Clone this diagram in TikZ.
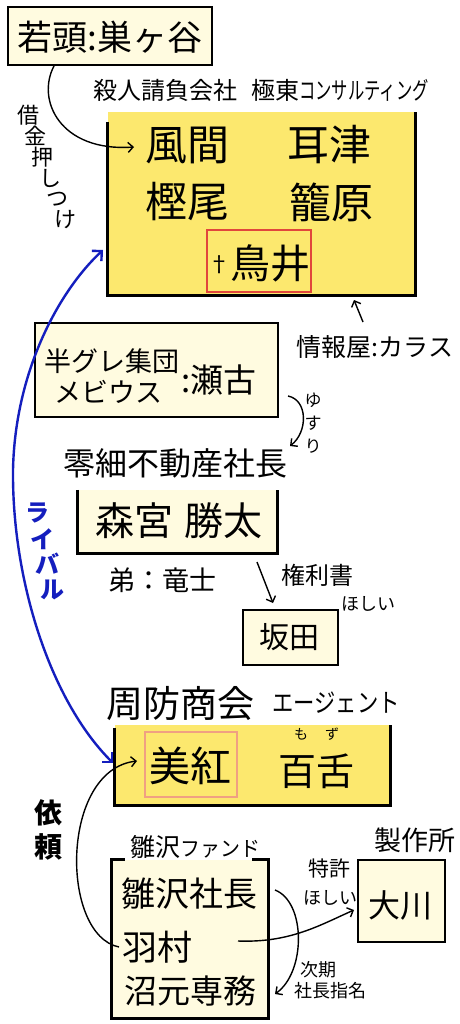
\documentclass[tikz,border=0pt]{standalone}
\usepackage{fontspec}
\setmainfont{Noto Sans CJK JP}
\usetikzlibrary{arrows.meta}
\definecolor{cream}{RGB}{255,251,224}
\definecolor{yel}{RGB}{252,232,110}
\definecolor{rivalblue}{RGB}{20,30,190}
\definecolor{redbox}{RGB}{225,70,60}
\definecolor{pinkbox}{RGB}{240,160,130}
\newcommand{\fsz}[1]{\fontsize{#1}{#1}\selectfont}
\newcommand{\fszl}[2]{\fontsize{#1}{#2}\selectfont}
\begin{document}
\begin{tikzpicture}[x=1pt,y=-1pt,
  t/.style={inner sep=0pt},
  creambox/.style={draw=black, line width=2.8pt, fill=cream, inner sep=0pt},
  fillonly/.style={fill=#1, inner sep=0pt},
  edge/.style={line width=2.8pt, line join=miter},
  conn/.style={line width=1.4pt, -{Straight Barb[length=5pt,width=10pt]}},
  rival/.style={line width=2.4pt, draw=rivalblue,
    {Straight Barb[length=7pt,width=14pt]}-{Straight Barb[length=7pt,width=14pt]}},
  vert/.style={t, align=center}]
\useasboundingbox[fill=white] (0,0) rectangle (459,1024);

% ---- top box
\node[creambox, minimum width=204pt, minimum height=58pt] (waka) at (110,36) {};
\node[t, font=\fsz{35}] (wakat) at (110,37) {若頭:巣ヶ谷};

% ---- company header
\node[t, anchor=west, font=\fsz{24}] (kyokuh) at (93,90)
  {殺人請負会社\hspace{14pt}極東\scalebox{0.68}[1]{コンサルティング}};

% ---- big yellow box
\node[fillonly=yel, minimum width=307pt, minimum height=183pt] (kyoku) at (261.5,203.5) {};
\draw[edge] ([yshift=-10pt]kyoku.north west) -- (kyoku.south west) -- (kyoku.south east) -- (kyoku.north east);
\node[t, font=\fsz{42}] (kazama) at (187,145) {風間};
\node[t, font=\fsz{42}] (mimizu) at (329,145) {耳津};
\node[t, font=\fsz{42}] (kashio) at (187,202) {樫尾};
\node[t, font=\fsz{42}] (kagohara) at (331,202) {籠原};
\node[draw=redbox, line width=1.6pt, minimum width=104pt, minimum height=62pt, inner sep=0pt] (toriibox) at (259,261) {};
\node[t, font=\fsz{40}] (torii) at (259,263) {\raisebox{6pt}{\fsz{22}†}鳥井};

% ---- 借金押しつけ
\coordinate (kstart) at (54,66);
\coordinate (kend) at (134,147);
\draw[conn] (kstart) .. controls (36,100) and (60,152) .. (kend);
\foreach \c [count=\i from 0] in {借,金,押,し,つ,け}
  \node[t, font=\fsz{22}] (shakkin\i) at ({28+7.4*\i},{115+21*\i}) {\c};

% ---- 情報屋
\node[t, font=\fsz{25}] (karasu) at (375,347) {情報屋:カラス};
\coordinate (kara1) at (363,322);
\coordinate (kara2) at (354,300);
\draw[conn] (kara1) -- (kara2);

% ---- 半グレ box
\node[creambox, minimum width=243pt, minimum height=94pt] (hangure) at (156.5,370) {};
\node[t, font=\fsz{27}] (hg1) at (112,361) {半グレ集団};
\node[t, font=\fsz{27}] (hg2) at (108,392) {メビウス};
\node[t, anchor=west, font=\fsz{33}] (seko) at (181,380) {:瀬古};

% ---- ゆすり
\coordinate (y1) at (288,396);
\coordinate (y2) at (290,446);
\draw[conn] (y1) .. controls (308,400) and (308,432) .. (y2);
\node[vert, font=\fszl{17}{23}] (yusuri) at (313,423) {ゆ\\す\\り};

% ---- 森宮
\node[t, font=\fsz{32}] (reisai) at (175,463) {零細不動産社長};
\node[fillonly=cream, minimum width=199pt, minimum height=63pt] (morimiya) at (177.5,521.5) {};
\draw[edge] (morimiya.north west) -- (morimiya.south west) -- (morimiya.south east) -- (morimiya.north east);
\node[t, font=\fsz{39}] (morimiyat) at (179,521) {森宮\hspace{12pt}勝太};
\node[t, font=\fsz{27}] (otouto) at (162,580) {弟：竜士};

% ---- 坂田
\coordinate (ken1) at (257,562);
\coordinate (ken2) at (273,603);
\draw[conn] (ken1) -- (ken2);
\node[t, font=\fsz{24}] (kenri) at (317,575) {権利書};
\node[t, font=\fsz{18}] (hoshii1) at (368,604) {ほしい};
\node[creambox, minimum width=95pt, minimum height=55pt] (sakata) at (290.5,637.5) {};
\node[t, font=\fsz{30}] (sakatat) at (289,637) {坂田};

% ---- 周防商会
\node[t, anchor=west, font=\fsz{37}] (suou) at (106,704) {周防商会};
\node[t, anchor=west, font=\fsz{26}] (agent) at (272,703) {\scalebox{0.82}[1]{エージェント}};
\node[fillonly=yel, minimum width=275pt, minimum height=80pt] (suoubox) at (252.5,765) {};
\draw[edge] ([yshift=-3pt]suoubox.north west) -- (suoubox.south west) -- (suoubox.south east) -- (suoubox.north east);
\node[draw=pinkbox, line width=1.6pt, minimum width=92pt, minimum height=65pt, inner sep=0pt] (mikubox) at (191,764.5) {};
\node[t, font=\fsz{41}] (miku) at (190,766) {美紅};
\node[t, font=\fsz{38}] (mozu) at (316,771) {百舌};
\node[t, font=\fsz{14}] (rubymo) at (301,734) {も};
\node[t, font=\fsz{14}] (rubyzu) at (332,734) {ず};

% ---- rival
\coordinate (rtop) at (103,250);
\coordinate (rbot) at (113,763);
\draw[rival] (rtop) .. controls (60,290) and (15,370) .. (13,470) .. controls (12,580) and (50,700) .. (rbot);
\foreach \c/\px/\py [count=\i] in {ラ/37/513, イ/42/539, バ/47/564, ル/52/590}
  \node[t, text=rivalblue, font=\bfseries\fsz{24}] (raibaru\i) at (\px,\py) {\c};

% ---- 依頼
\node[vert, font=\bfseries\fszl{28}{34}] (irai) at (48,830) {依\\頼};

% ---- fund
\node[t, anchor=west, font=\fsz{25}] (fundh) at (130,847) {雛沢\scalebox{0.95}[1]{\fsz{21}ファンド}};
\node[fillonly=cream, minimum width=156pt, minimum height=158pt] (fund) at (190,939) {};
\draw[edge] ([xshift=13pt]fund.north west) -- (fund.north west) -- (fund.south west) -- (fund.south east) -- (fund.north east) -- ([xshift=-16pt]fund.north east);
\node[t, anchor=west, font=\fsz{34}] (hinazawa) at (121,894) {雛沢社長};
\node[t, anchor=west, font=\fsz{35}] (hamura) at (122,947) {羽村};
\node[t, anchor=west, font=\fsz{33}] (numamoto) at (124,991) {沼元専務};

\coordinate (hstart) at (119,947);
\coordinate (hend) at (137,761);
\draw[conn] (hstart) .. controls (60,935) and (60,770) .. (hend);

% ---- 製作所
\node[t, font=\fsz{27}] (seisaku) at (415,840) {製作所};
\node[creambox, minimum width=87pt, minimum height=82pt] (okawa) at (401.5,901) {};
\node[t, font=\fsz{32}] (okawat) at (400,905) {大川};
\node[t, font=\fsz{21}] (tokkyo) at (329,868) {特許};
\node[t, font=\fsz{18}] (hoshii2) at (330,898) {ほしい};
\coordinate (hm1) at (238,941);
\coordinate (hm2) at (354,910);
\draw[conn] (hm1) .. controls (290,943) and (320,925) .. (hm2);

% ---- 次期社長指名
\coordinate (j1) at (275,890);
\coordinate (j2) at (275,994);
\draw[conn] (j1) .. controls (306,902) and (306,972) .. (j2);
\node[t, font=\fsz{18}] (jiki) at (318,970) {次期};
\node[t, font=\fsz{18}] (shimei) at (330,991) {社長指名};
\end{tikzpicture}
\end{document}
